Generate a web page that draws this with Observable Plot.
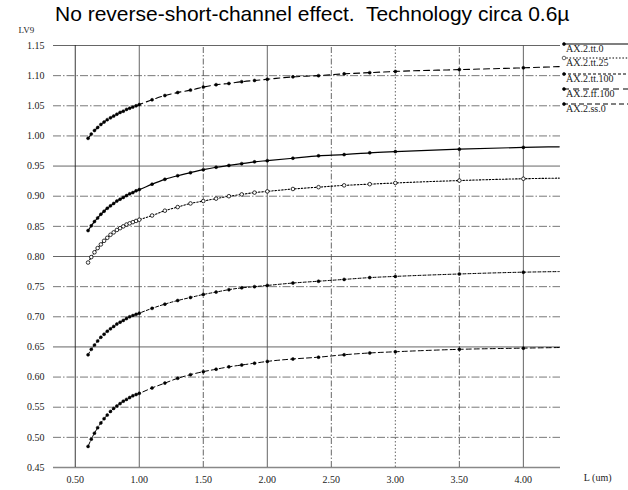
<!DOCTYPE html>
<html><head><meta charset="utf-8">
<script src="https://cdn.jsdelivr.net/npm/d3@7"></script>
<script src="https://cdn.jsdelivr.net/npm/@observablehq/plot@0.6"></script>
<style>
body{margin:0;background:#fff;}
#title{height:24px;overflow:visible;box-sizing:border-box;padding:2px 0 0 55px;width:628px;text-align:left;font:21px "Liberation Sans",Arial,sans-serif;line-height:normal;white-space:pre;color:#000;}
</style></head><body>
<div id="title">No reverse-short-channel effect.  Technology circa 0.6µ</div>
<div id="chart"></div>
<script>
// Channel length (um)
const lengths = [0.6,0.625,0.65,0.675,0.7,0.725,0.75,0.775,0.8,0.825,0.85,0.875,0.9,0.925,0.95,0.975,1.0,
  1.1,1.2,1.3,1.4,1.5,1.6,1.7,1.8,1.9,2.0, 2.2,2.4,2.6,2.8,3.0, 3.5,4.0,4.28];
const seriesNames = ["AX.2.tt.0","AX.2.tt.25","AX.2.tt.100","AX.2.ff.100","AX.2.ss.0"];
const tt0 = [0.843,0.851,0.858,0.864,0.870,0.875,0.880,0.884,0.888,0.892,0.895,0.898,0.901,0.904,0.906,0.909,0.911,
  0.920,0.928,0.934,0.939,0.944,0.948,0.951,0.954,0.957,0.959, 0.963,0.967,0.969,0.972,0.974, 0.978,0.981,0.982];
const tt25 = [0.790,0.799,0.807,0.814,0.820,0.826,0.831,0.836,0.840,0.844,0.847,0.850,0.853,0.855,0.857,0.859,0.861,
  0.868,0.876,0.882,0.888,0.892,0.896,0.900,0.903,0.906,0.908, 0.912,0.915,0.918,0.920,0.922, 0.926,0.929,0.930];
const tt100 = [0.637,0.646,0.653,0.660,0.666,0.671,0.676,0.680,0.684,0.688,0.691,0.694,0.697,0.700,0.702,0.704,0.706,
  0.714,0.721,0.727,0.732,0.737,0.741,0.745,0.748,0.750,0.752, 0.756,0.759,0.762,0.765,0.767, 0.771,0.774,0.775];
const ff100 = [0.996,1.003,1.009,1.014,1.019,1.023,1.027,1.030,1.033,1.036,1.039,1.041,1.044,1.046,1.048,1.050,1.052,
  1.060,1.067,1.072,1.076,1.081,1.085,1.087,1.090,1.092,1.094, 1.098,1.100,1.103,1.105,1.107, 1.110,1.113,1.115];
const ss0 = [0.485,0.497,0.507,0.516,0.524,0.531,0.537,0.543,0.548,0.552,0.556,0.560,0.563,0.566,0.569,0.571,0.573,
  0.582,0.590,0.598,0.604,0.609,0.613,0.617,0.620,0.623,0.626, 0.630,0.633,0.637,0.640,0.642, 0.646,0.648,0.649];
const xTicks = [0.5,1.0,1.5,2.0,2.5,3.0,3.5,4.0];
const yTicks = [0.45,0.50,0.55,0.60,0.65,0.70,0.75,0.80,0.85,0.90,0.95,1.00,1.05,1.10,1.15];

const seriesValues = [tt0, tt25, tt100, ff100, ss0];
const rows = seriesNames.flatMap((s, i) => lengths.map((L, j) => ({series: s, L, v: seriesValues[i][j], last: j === lengths.length - 1})));

const lineStyle = {
  "AX.2.tt.0":   {dash: null,      width: 1.2, hollow: false},
  "AX.2.tt.25":  {dash: "1.5,1.8", width: 1.1, hollow: true},
  "AX.2.tt.100": {dash: "3,2",     width: 1.0, hollow: false},
  "AX.2.ff.100": {dash: "6,4",     width: 1.1, hollow: false},
  "AX.2.ss.0":   {dash: "5,3",     width: 1.0, hollow: false}
};

const solidH = new Set([1.15, 0.95, 0.80, 0.65]);
const solidV = new Set([0.5, 1.0, 2.0, 4.0]);
const dottedV = new Set([3.0]);

const marks = [
  Plot.ruleY(yTicks.filter(v => solidH.has(v)), {stroke: "#555", strokeWidth: 0.9}),
  Plot.ruleY(yTicks.filter(v => !solidH.has(v) && v !== 0.45), {stroke: "#555", strokeWidth: 0.8, strokeDasharray: "8,2,1.5,2"}),
  Plot.ruleY([0.45], {stroke: "#888", strokeWidth: 1.6}),
  Plot.ruleX(xTicks.filter(v => solidV.has(v)), {y1: 0.45, y2: 1.15, stroke: v => v === 0.5 ? "#222" : "#555", strokeWidth: 0.9}),
  Plot.ruleX(xTicks.filter(v => dottedV.has(v)), {y1: 0.45, y2: 1.15, stroke: "#555", strokeWidth: 0.9, strokeDasharray: "1.5,2"}),
  Plot.ruleX(xTicks.filter(v => !solidV.has(v) && !dottedV.has(v)), {y1: 0.45, y2: 1.15, stroke: "#555", strokeWidth: 0.9, strokeDasharray: "6,2,1.5,2"}),
  Plot.axisX({ticks: xTicks, tickSize: 0, tickPadding: 8, tickFormat: d3.format(".2f"), label: null, fontSize: 10}),
  Plot.axisY({ticks: yTicks, tickSize: 0, tickPadding: 9, tickFormat: d3.format(".2f"), label: null, fontSize: 10}),
  Plot.text(["LV9"], {frameAnchor: "top-left", dx: -35, dy: -13, lineAnchor: "bottom", text: d => d, fontSize: 9}),
  Plot.text(["L (um)"], {frameAnchor: "bottom-right", dx: 51, dy: 13, text: d => d, fontSize: 10})
];
for (const s of seriesNames) {
  const st = lineStyle[s];
  const data = rows.filter(d => d.series === s);
  marks.push(Plot.line(data, {x: "L", y: "v", curve: "monotone-x", stroke: "#000", strokeWidth: st.width, strokeDasharray: st.dash}));
  marks.push(Plot.dot(data.filter(d => !d.last), {x: "L", y: "v", r: st.hollow ? 1.8 : 1.5, stroke: "#000", strokeWidth: st.hollow ? 0.8 : 0.5, fill: st.hollow ? "#fff" : "#000"}));
}

const svgEl = Plot.plot({
  width: 628, height: 466,
  marginTop: 21, marginBottom: 23, marginLeft: 53, marginRight: 68,
  x: {domain: [0.33, 4.29], label: null},
  y: {domain: [0.45, 1.15], label: null},
  style: {fontFamily: '"Liberation Serif", "Times New Roman", serif', fontSize: "10px", color: "#222", background: "#fff", overflow: "visible"},
  marks
});
document.getElementById("chart").appendChild(svgEl);

// legend (top right)
const lg = d3.select(svgEl).append("g")
  .attr("font-family", '"Liberation Serif", serif').attr("font-size", 10)
  .attr("fill", "#222").attr("text-anchor", "start");
const legendY = [20, 34, 50, 65, 80];
seriesNames.forEach((s, i) => {
  const st = lineStyle[s];
  const y = legendY[i];
  lg.append("line").attr("x1", 563).attr("x2", 628).attr("y1", y).attr("y2", y)
    .attr("stroke", "#000").attr("stroke-width", st.width).attr("stroke-dasharray", st.dash);
  lg.append("circle").attr("cx", 564).attr("cy", y).attr("r", st.hollow ? 1.8 : 1.5)
    .attr("fill", st.hollow ? "#fff" : "#000").attr("stroke", "#000").attr("stroke-width", 0.6);
  lg.append("text").attr("x", 566).attr("y", y + 7.5).attr("text-anchor", "start").text(s);
});
</script></body></html>
